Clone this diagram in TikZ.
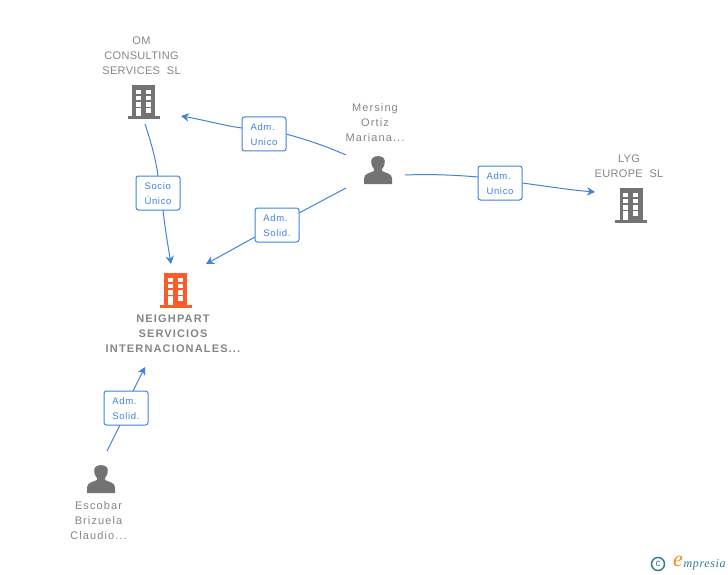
\documentclass[tikz,border=0pt]{standalone}
\usepackage{fontspec}
\setmainfont{Liberation Sans}
\newfontfamily\lblfont[LetterSpace=7]{Liberation Sans}
\newfontfamily\upfont[LetterSpace=3]{Liberation Sans}
\newfontfamily\lowfont[LetterSpace=10]{Liberation Sans}
\newfontfamily\boldlbl[LetterSpace=10.5]{Liberation Sans}
\newfontfamily\logofont[LetterSpace=5]{Liberation Serif}
\usetikzlibrary{arrows.meta}
\definecolor{linkblue}{HTML}{3F82E0}
\definecolor{icongray}{HTML}{737373}
\definecolor{txtgray}{HTML}{858585}
\definecolor{hot}{HTML}{FF5A2B}
\definecolor{logoteal}{HTML}{2F7C96}
\definecolor{logoorange}{HTML}{F08A1D}
\newcommand{\lblstrut}{\rule{0pt}{9pt}}
\tikzset{
  x=1pt,y=-1pt,
  conn/.style={draw=linkblue,line width=1pt},
  arr/.style={conn,-{Stealth[length=8pt,width=8.5pt]}},
  rel/.style={draw=linkblue,line width=1pt,rounded corners=2.5pt,fill=white,
     minimum width=44pt,minimum height=34pt,inner sep=0pt,align=left,
     text=linkblue,font=\fontsize{9.5}{15}\lblfont},
  captxt/.style={align=center,text=txtgray,font=\fontsize{11}{15}\upfont,inner sep=0pt},
  caplow/.style={align=center,text=txtgray,font=\fontsize{11}{15}\lowfont,inner sep=0pt},
  capb/.style={align=center,text=txtgray,font=\fontsize{11}{15}\boldlbl\bfseries,inner sep=0pt},
  anchorpt/.style={inner sep=0pt,minimum size=0pt},
  pics/bldg/.style={code={
    \fill[#1] (-11.5,-17) rectangle (11.5,15);
    \fill[#1] (-16,14.5) rectangle (16,17.5);
    \foreach \xx in {-8,2}{\foreach \yy in {-12,-6,0.3}{
      \fill[white] (\xx,\yy) rectangle ++(5,4.4);}}
    \fill[white] (-8,6.3) rectangle (-3,14.5);
    \fill[white] (2,6.3) rectangle (7,11.3);
  }},
  pics/prsn/.style={code={
    \fill[icongray] (-14,14) -- (-14,8.5) .. controls (-14,3.5) and (-8,3) .. (-4,1)
      -- (-4,-1) .. controls (-6.5,-4) and (-7,-7) .. (-6.8,-9)
      .. controls (-6.5,-15.5) and (6.5,-15.5) .. (6.8,-9)
      .. controls (7,-7) and (6.5,-4) .. (4,-1) -- (4,1)
      .. controls (8,3) and (14,3.5) .. (14,8.5) -- (14,14) -- cycle;
  }}
}
\begin{document}
\begin{tikzpicture}
\useasboundingbox (0,0) rectangle (728,575);
% icons
\node[anchorpt] (om) at (143.7,102) {};
\node[anchorpt] (neigh) at (175.5,290) {};
\node[anchorpt] (lyg) at (631,205) {};
\node[anchorpt] (mersing) at (378,170) {};
\node[anchorpt] (escobar) at (101,479) {};
\pic at (om) {bldg=icongray};
\pic at (neigh) {bldg=hot};
\pic at (lyg) {bldg=icongray};
\pic at (mersing) {prsn};
\pic at (escobar) {prsn};
% captions
\node[captxt] (omt) at (141.5,56) {OM\\CONSULTING\\SERVICES\ \ SL};
\node[capb] (neight) at (173,334) {NEIGHPART\\SERVICIOS\\INTERNACIONALES...};
\node[captxt] (lygt) at (629,166) {LYG\\EUROPE\ \ SL};
\node[caplow] (mersingt) at (375,123) {Mersing\\Ortiz\\Mariana...};
\node[caplow] (escobart) at (98.5,521) {Escobar\\Brizuela\\Claudio...};
% connector ends
\coordinate (a1) at (145,124);
\coordinate (a2) at (171,264);
\coordinate (b1) at (346,155);
\coordinate (b2) at (181,116);
\coordinate (c1) at (346,188);
\coordinate (c2) at (206,264);
\coordinate (d1) at (405,175);
\coordinate (d2) at (595,192);
\coordinate (e1) at (107,451);
\coordinate (e2) at (145,367);
% connectors
\draw[conn] (a1) .. controls (151,142) and (156,160) .. (158,176);
\draw[arr] (163,210) .. controls (165,228) and (168,246) .. (a2);
\draw[conn] (b1) .. controls (328,147) and (308,140) .. (286,134);
\draw[arr] (242,128) .. controls (226,126) and (204,120) .. (b2);
\draw[conn] (c1) -- (299,213);
\draw[arr] (255,237) -- (c2);
\draw[conn] (d1) .. controls (430,174) and (455,175) .. (478,177);
\draw[arr] (522,183) .. controls (545,186) and (570,190) .. (d2);
\draw[conn] (e1) -- (120,425);
\draw[arr] (133,391) -- (e2);
% labels
\node[rel] (la) at (158,193) {\lblstrut Socio\\Único};
\node[rel] (lb) at (264,134) {\lblstrut Adm.\\Unico};
\node[rel] (lc) at (277,225) {\lblstrut Adm.\\Solid.};
\node[rel] (ld) at (500,183) {\lblstrut Adm.\\Unico};
\node[rel] (le) at (126,408) {\lblstrut Adm.\\Solid.};
% logo
\node[anchorpt,draw=logoteal,line width=1.5pt,circle,minimum size=13pt,text=logoteal,font=\fontsize{10}{10}\selectfont] (copy) at (658,564) {c};
\node[anchor=west,inner sep=0pt,text=logoteal,font=\fontsize{12}{12}\logofont\itshape] (logt) at (683.5,565) {mpresia};
\node[anchorpt,text=logoorange,font=\fontsize{22}{22}\logofont\itshape] (loge) at (678,561.5) {e};
\end{tikzpicture}
\end{document}
